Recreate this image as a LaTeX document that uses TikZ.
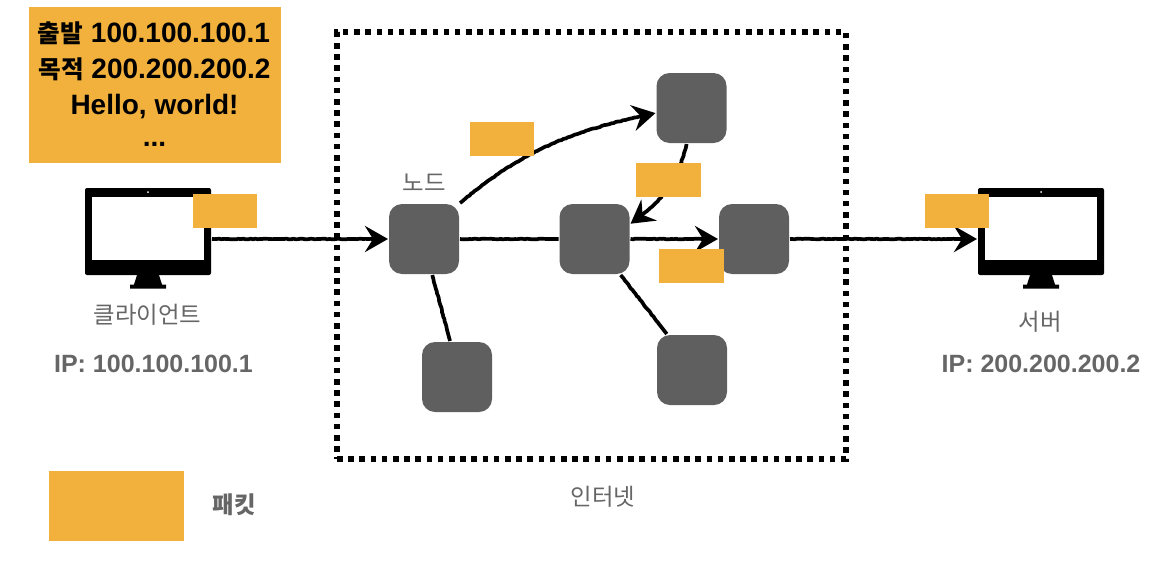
\documentclass[tikz,border=0pt]{standalone}
\usepackage{fontspec}
\setmainfont{Liberation Sans}
\newfontfamily\cjk{Noto Sans CJK KR}
\usetikzlibrary{shapes,arrows.meta,positioning,calc,decorations.pathmorphing}

\definecolor{packetorange}{HTML}{F2B13C}
\definecolor{nodegray}{HTML}{5F5F5F}
\definecolor{labelgray}{HTML}{666666}

\tikzset{
    routerbox/.style={fill=nodegray, draw=none, rounded corners=6.5pt, minimum size=35pt, inner sep=0pt, outer sep=0.5pt},
    packetbox/.style={fill=packetorange, draw=none, minimum width=32.25pt, minimum height=17pt, inner sep=0pt},
    monitorbody/.style={fill=black, draw=none, rounded corners=1pt, minimum width=63pt, minimum height=43.5pt, inner sep=0pt, outer sep=0.5pt},
    sketch/.style={line width=1.85pt, decorate, decoration={random steps, segment length=1.2pt, amplitude=0.18pt, post length=6pt}},
    sketcharrow/.style={sketch, -{Stealth[inset=4pt, length=11.5pt, width=13pt]}},
    grouplabel/.style={text=labelgray, font=\fontsize{11.7}{13}\selectfont\cjk},
    iplabel/.style={text=labelgray, font=\fontsize{12.5}{15}\selectfont\bfseries},
    monitordetail/.pic={
        \fill [white] (-56,-31.5) rectangle (56,31.5);
        \fill [white] (0,-36.5) circle (1);
        \fill [black] (-10,43.5) -- (10,43.5) -- (14,56) -- (18,56) -- (18,60) -- (-18,60) -- (-18,56) -- (-14,56) -- cycle;
    }
}

\begin{document}
\begin{tikzpicture}[x=0.5pt, y=-0.5pt, >=Stealth]
    \useasboundingbox (0,0) rectangle (1176,562);

    % internet boundary
    \node [draw, line width=2.75pt, dash pattern=on 2.75pt off 2.85pt, minimum width=254.5pt, minimum height=213.5pt, inner sep=0pt] (internet) at (591.5,245.5) {};
    \node [grouplabel] (internetlabel) at (603,497) {인터넷};

    % client and server
    \node [monitorbody] (client) at (148,231.5) {};
    \pic at (148,228.5) {monitordetail};
    \node [monitorbody] (server) at (1041,231.5) {};
    \pic at (1041,228.5) {monitordetail};
    \node [grouplabel] (clientlabel) at (147.5,315) {클라이언트};
    \node [iplabel] (clientip) at (153.5,363.5) {IP: 100.100.100.1};
    \node [grouplabel] (serverlabel) at (1040.5,322) {서버};
    \node [iplabel] (serverip) at (1041,363.5) {IP: 200.200.200.2};

    % routers
    \node [routerbox] (r1) at (424,239) {};
    \node [routerbox] (r2) at (691.5,108) {};
    \node [routerbox] (r3) at (594.5,239) {};
    \node [routerbox] (r4) at (754,239) {};
    \node [routerbox] (r5) at (457,377) {};
    \node [routerbox] (r6) at (692,370) {};
    \node [grouplabel] (nodelabel) at (424,183) {노드};

    % links
    \draw [sketcharrow] (client.east |- r1.west) -- (r1.west);
    \draw [sketch] (r1.east) -- (r3.west);
    \draw [sketcharrow] (r3.east) -- (r4.west);
    \draw [sketcharrow] (r4.east) -- (server.west |- r4.east);
    \draw [sketcharrow] (r1.north east) to[out=40, in=192] (r2.188);
    \draw [sketcharrow] (r2.-98) to[out=-103, in=35] (r3.23);
    \draw [sketch] (r1.-77) -- (r5.101);
    \draw [sketch] (r3.-54) -- (r6.125);

    % packets
    \node [packetbox] (p1) at (225,211) {};
    \node [packetbox] (p2) at (502,139) {};
    \node [packetbox] (p3) at (668.5,180) {};
    \node [packetbox] (p4) at (691.5,266) {};
    \node [packetbox] (p5) at (957,211) {};

    % packet contents
    \node [fill=packetorange, minimum width=126pt, minimum height=78pt, inner sep=0pt] (contents) at (154.5,85) {};
    \node [font=\fontsize{14}{15}\selectfont\bfseries] (line1) at (154,33) {{\cjk\fontsize{12.3}{15}\selectfont\bfseries 출발} 100.100.100.1};
    \node [font=\fontsize{14}{15}\selectfont\bfseries] (line2) at (154.5,69) {{\cjk\fontsize{12.3}{15}\selectfont\bfseries 목적} 200.200.200.2};
    \node [font=\fontsize{14}{15}\selectfont\bfseries] (line3) at (154.5,107) {Hello, world!};
    \node [font=\fontsize{14}{15}\selectfont\bfseries] (line4) at (154.5,144) {...};

    % legend
    \node [fill=packetorange, minimum width=67.5pt, minimum height=35pt, inner sep=0pt] (legend) at (116.5,506) {};
    \node [text=labelgray, font=\fontsize{11.7}{13}\selectfont\cjk\bfseries] (legendlabel) at (234,505) {패킷};
\end{tikzpicture}
\end{document}
